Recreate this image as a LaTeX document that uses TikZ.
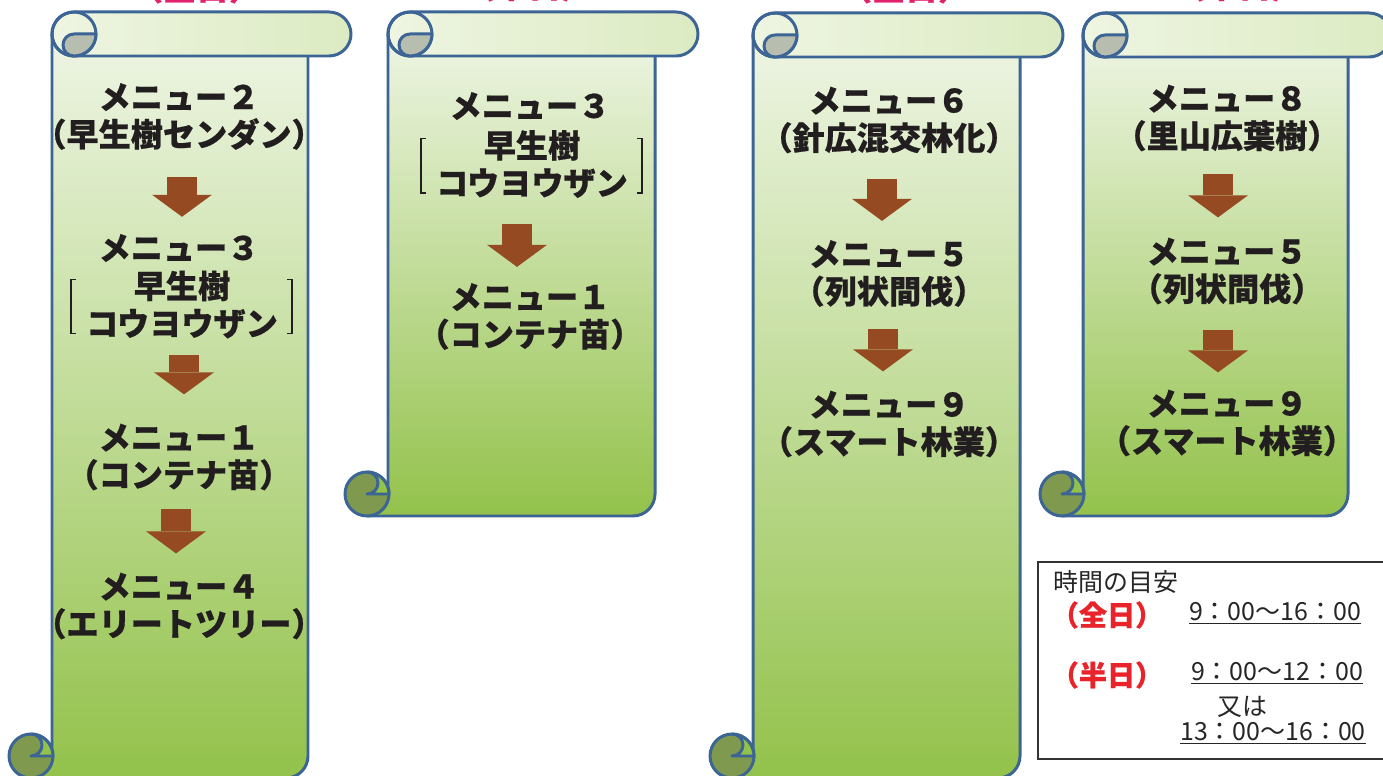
\documentclass[tikz,border=0pt]{standalone}
\usepackage{fontspec}
\newfontfamily\jpfont{Noto Sans CJK JP}[BoldFeatures={FakeBold=0.6}]
\usetikzlibrary{arrows.meta,calc}

\definecolor{scrollblue}{HTML}{3C6494}
\definecolor{bodytop}{HTML}{EEF5E4}
\definecolor{bodybottom}{HTML}{93C24B}
\definecolor{rolllight}{HTML}{EEF5E2}
\definecolor{rollgreen}{HTML}{DCEBC2}
\definecolor{curlgray}{HTML}{B8BEAF}
\definecolor{curlolive}{HTML}{7F9A4F}
\definecolor{arrowbrown}{HTML}{964A21}
\definecolor{menutext}{HTML}{221E1F}
\definecolor{legendred}{HTML}{E8232A}
\definecolor{headred}{HTML}{E3206B}

\tikzset{
  scrollline/.style={draw=scrollblue, line width=1.7pt, line join=round},
  menu/.style={font=\jpfont\bfseries\fontsize{18.3}{21.3}\selectfont,
    text=menutext, align=center, inner sep=0pt},
  menuarrow/.style={draw=arrowbrown, line width=17pt,
    -{Triangle[width=34pt,length=12.5pt,line width=0pt]}},
  bracketline/.style={draw=menutext, line width=0.8pt},
  legend/.style={font=\jpfont\fontsize{14.2}{17}\selectfont, text=black!85, inner sep=0pt},
  legendhead/.style={font=\jpfont\bfseries\fontsize{16}{18}\selectfont, text=legendred, inner sep=0pt},
  header/.style={font=\jpfont\bfseries\fontsize{18.8}{22}\selectfont, text=headred, inner sep=0pt, anchor=base}
}

% scroll: left, right, top, bottom (px)
\newcommand{\drawscroll}[4]{%
  \draw[scrollline, top color=bodytop, bottom color=bodybottom]
    (#1,{#3+22}) -- (#1,{#4-22}) -- ({#1-21},{#4-22}) -- ({#1-21},#4)
    -- ({#2-22},#4) arc[start angle=90, end angle=0, radius=22]
    -- (#2,{#3+22}) -- cycle;
  \draw[scrollline, left color=rolllight, right color=rollgreen]
    ({#1+22},#3) -- ({#2+21},#3) arc[start angle=270, end angle=450, radius=22]
    -- ({#1+22},{#3+44}) arc[start angle=90, end angle=270, radius=22] -- cycle;
  \draw[scrollline] ({#1+22},{#3+22}) circle[radius=22];
  \draw[scrollline, fill=curlgray] ({#1+22},{#3+22}) -- ({#1+44},{#3+22})
    arc[start angle=0, end angle=90, radius=22]
    arc[start angle=90, end angle=270, radius=11] -- cycle;
  \draw[scrollline, fill=curlolive] ({#1-21},{#4-22}) circle[radius=22];
  \draw[scrollline, fill=bodybottom] ({#1-21},{#4-22}) -- ({#1+1},{#4-22})
    arc[start angle=0, end angle=-90, radius=22]
    arc[start angle=270, end angle=450, radius=11] -- cycle;
}

\begin{document}
\begin{tikzpicture}[x=0.02cm,y=-0.02cm]
\useasboundingbox (0,0) rectangle (1383,776);

% headings (cut off at the top)
\node[header] (h1) at (196,0) {（全日）};
\node[header] (h2) at (528,-2) {（半日）};
\node[header] (h3) at (905,0) {（全日）};
\node[header] (h4) at (1238,-2) {（半日）};

% scrolls
\drawscroll{52}{308}{12}{778}
\drawscroll{388}{655}{12}{516}
\drawscroll{753}{1020}{13}{778}
\drawscroll{1083}{1348}{13}{516}

% column 1
\node[menu] (s1m2) at (179,116.5) {メニュー２\\（早生樹センダン）};
\node[menu] (s1m3) at (179,248) {メニュー３};
\node[menu] (s1m3b) at (182,304.5) {早生樹\\コウヨウザン};
\node[menu] (s1m1) at (179,457) {メニュー１\\（コンテナ苗）};
\node[menu] (s1m4) at (179,606) {メニュー４\\（エリートツリー）};
\draw[bracketline] ($(s1m3b.north west)+(-10,9)$) -- ++(-5,0) |- ($(s1m3b.south west)+(-10,-5)$);
\draw[bracketline] ($(s1m3b.north east)+(9,9)$) -- ++(5,0) |- ($(s1m3b.south east)+(9,-5)$);
\draw[menuarrow] ($(s1m2.south)+(3,27)$) -- ($(s1m3.north)+(3,-17)$);
\draw[menuarrow] ($(s1m3b.south)+(2,16)$) -- ($(s1m1.north)+(5,-29)$);
\draw[menuarrow] ($(s1m1.south)+(-3,18)$) -- ($(s1m4.north)+(-3,-19)$);

% column 2
\node[menu] (s2m3) at (530,106) {メニュー３};
\node[menu] (s2m3b) at (532,164) {早生樹\\コウヨウザン};
\node[menu] (s2m1) at (530,316.5) {メニュー１\\（コンテナ苗）};
\draw[bracketline] ($(s2m3b.north west)+(-10,9)$) -- ++(-5,0) |- ($(s2m3b.south west)+(-10,-5)$);
\draw[bracketline] ($(s2m3b.north east)+(9,9)$) -- ++(5,0) |- ($(s2m3b.south east)+(9,-5)$);
\draw[menuarrow] ($(s2m3b.south)+(-15,26)$) -- ($(s2m1.north)+(-13,-16)$);

% column 3
\node[menu] (s3m6) at (889,120) {メニュー６\\（針広混交林化）};
\node[menu] (s3m5) at (889,273.5) {メニュー５\\（列状間伐）};
\node[menu] (s3m9) at (889,424) {メニュー９\\（スマート林業）};
\draw[menuarrow] ($(s3m6.south)+(-7,25)$) -- ($(s3m5.north)+(-7,-19)$);
\draw[menuarrow] ($(s3m5.south)+(-6,22)$) -- ($(s3m9.north)+(-6,-19)$);

% column 4
\node[menu] (s4m8) at (1227,118) {メニュー８\\（里山広葉樹）};
\node[menu] (s4m5) at (1227,271) {メニュー５\\（列状間伐）};
\node[menu] (s4m9) at (1227,423) {メニュー９\\（スマート林業）};
\draw[menuarrow] ($(s4m8.south)+(-9,22)$) -- ($(s4m5.north)+(-9,-20)$);
\draw[menuarrow] ($(s4m5.south)+(-9,25)$) -- ($(s4m9.north)+(-9,-17)$);

% time guide
\draw[draw=black!80, line width=0.6pt] (1038,562) rectangle (1392,759);
\node[legend, anchor=west] (lgtitle) at (1053,582) {時間の目安};
\node[legendhead] (lgfull) at (1107,615) {（全日）};
\node[legend] (lgfulltime) at (1275,613) {\underline{9：00〜16：00}};
\node[legendhead] (lghalf) at (1107,675) {（半日）};
\node[legend] (lghalftime) at (1277,673) {\underline{9：00〜12：00}};
\node[legend] (lgor) at (1242,707) {又は};
\node[legend] (lgalttime) at (1273,733) {\underline{13：00〜16：00}};
\end{tikzpicture}
\end{document}
